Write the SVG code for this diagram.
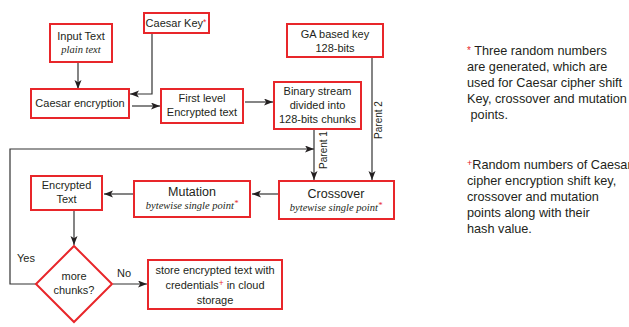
<svg xmlns="http://www.w3.org/2000/svg" width="629" height="327" viewBox="0 0 629 327">
  <defs>
    <marker id="arrow" markerUnits="userSpaceOnUse" markerWidth="10" markerHeight="8" refX="9" refY="3.5" orient="auto">
      <path d="M0,0 L9,3.5 L0,7 L2.2,3.5 Z" fill="#231f20"/>
    </marker>
    <style>
      .box { fill: #fff; stroke: #e8262a; stroke-width: 2; }
      .lbl { font-family: "Liberation Sans", Arial, sans-serif; font-size: 11px; fill: #231f20; text-anchor: middle; }
      .big { font-size: 12.5px; }
      .it { font-family: "Liberation Serif", "Times New Roman", serif; font-style: italic; font-size: 10.5px; fill: #231f20; text-anchor: middle; }
      .note { font-family: "Liberation Sans", Arial, sans-serif; font-size: 12.7px; fill: #231f20; }
      .red { fill: #e8262a; }
      .sup { font-size: 8.5px; fill: #e8262a; }
      .wire { fill: none; stroke: #333; stroke-width: 1.2; }
      .tag { font-family: "Liberation Sans", Arial, sans-serif; font-size: 10px; fill: #231f20; text-anchor: middle; }
    </style>
  </defs>
  <rect width="629" height="327" fill="#fff"/>

  <!-- connectors -->
  <g id="connectors">
    <path class="wire" d="M78,62 V89" marker-end="url(#arrow)"/>
    <path class="wire" d="M152,33 V94 H130" marker-end="url(#arrow)"/>
    <path class="wire" d="M132,106 H160" marker-end="url(#arrow)"/>
    <path class="wire" d="M245,102 H273" marker-end="url(#arrow)"/>
    <path class="wire" d="M314,129 V180" marker-end="url(#arrow)"/>
    <path class="wire" d="M372,57 V180" marker-end="url(#arrow)"/>
    <path class="wire" d="M278,194 H252" marker-end="url(#arrow)"/>
    <path class="wire" d="M133,194 H104" marker-end="url(#arrow)"/>
    <path class="wire" d="M74,210 V245" marker-end="url(#arrow)"/>
    <path class="wire" d="M113,284 H147" marker-end="url(#arrow)"/>
    <path class="wire" d="M36,284 H10 V149 H314" marker-end="url(#arrow)"/>
    <text class="tag" transform="translate(327,150) rotate(-90)">Parent 1</text>
    <text class="tag" transform="translate(382,120) rotate(-90)">Parent 2</text>
    <text class="lbl" x="26" y="262">Yes</text>
    <text class="lbl" x="124" y="277">No</text>
  </g>

  <g id="input-text">
    <rect class="box" x="50" y="24" width="62" height="38"/>
    <text class="lbl" x="81" y="40">Input Text</text>
    <text class="it" x="81" y="53">plain text</text>
  </g>

  <g id="caesar-key">
    <rect class="box" x="144" y="13" width="65" height="20"/>
    <text class="lbl" x="176" y="27">Caesar Key<tspan class="sup" dy="-2">*</tspan></text>
  </g>

  <g id="caesar-encryption">
    <rect class="box" x="31" y="89" width="98" height="29"/>
    <text class="lbl" x="80" y="107">Caesar encryption</text>
  </g>

  <g id="first-level">
    <rect class="box" x="161" y="89" width="82" height="34"/>
    <text class="lbl" x="202" y="102">First level</text>
    <text class="lbl" x="202" y="116">Encrypted text</text>
  </g>

  <g id="binary-stream">
    <rect class="box" x="274" y="82" width="87" height="47"/>
    <text class="lbl" x="317.5" y="95">Binary stream</text>
    <text class="lbl" x="317.5" y="109">divided into</text>
    <text class="lbl" x="317.5" y="123">128-bits chunks</text>
  </g>

  <g id="ga-key">
    <rect class="box" x="287" y="24" width="96" height="33"/>
    <text class="lbl" x="335" y="38">GA based key</text>
    <text class="lbl" x="335" y="52">128-bits</text>
  </g>

  <g id="crossover">
    <rect class="box" x="279" y="181" width="115" height="38"/>
    <text class="lbl big" x="336" y="198">Crossover</text>
    <text class="it" x="336" y="211">bytewise single point<tspan class="sup" dy="-3">*</tspan></text>
  </g>

  <g id="mutation">
    <rect class="box" x="134" y="181" width="116" height="36"/>
    <text class="lbl big" x="192" y="196">Mutation</text>
    <text class="it" x="192" y="209">bytewise single point<tspan class="sup" dy="-3">*</tspan></text>
  </g>

  <g id="encrypted-text">
    <rect class="box" x="31" y="176" width="71" height="34"/>
    <text class="lbl" x="66.5" y="189">Encrypted</text>
    <text class="lbl" x="66.5" y="203">Text</text>
  </g>

  <g id="more-chunks">
    <path class="box" d="M74,246 L112,284 L74,322 L36,284 Z"/>
    <text class="lbl" x="74" y="280">more</text>
    <text class="lbl" x="74" y="294">chunks?</text>
  </g>

  <g id="store">
    <rect class="box" x="148" y="260" width="134" height="49"/>
    <text class="lbl" x="215" y="274">store encrypted text with</text>
    <text class="lbl" x="215" y="289">credentials<tspan class="sup" dy="-3">+</tspan><tspan dy="3"> in cloud</tspan></text>
    <text class="lbl" x="215" y="304">storage</text>
  </g>

  <!-- footnotes -->
  <g id="notes">
    <text class="note" x="467" y="55"><tspan class="red" font-size="10" dy="-1">*</tspan><tspan dy="1"> Three random numbers</tspan></text>
    <text class="note" x="467" y="71">are generated, which are</text>
    <text class="note" x="467" y="87">used for Caesar cipher shift</text>
    <text class="note" x="467" y="103">Key, crossover and mutation</text>
    <text class="note" x="467" y="119">&#160;points.</text>

    <text class="note" x="467" y="169"><tspan class="red" font-size="9" dy="-3">+</tspan><tspan dy="3">Random numbers of Caesar</tspan></text>
    <text class="note" x="467" y="185">cipher encryption shift key,</text>
    <text class="note" x="467" y="201">crossover and mutation</text>
    <text class="note" x="467" y="217">points along with their</text>
    <text class="note" x="467" y="233">hash value.</text>
  </g>
</svg>
